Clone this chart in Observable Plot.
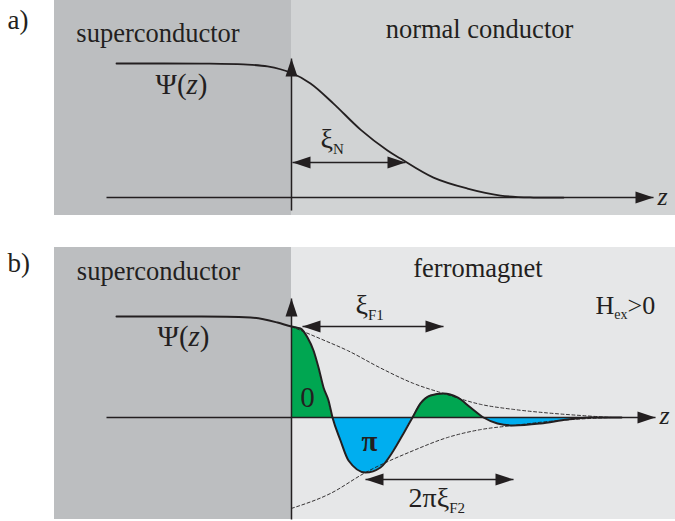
<!DOCTYPE html>
<html>
<head>
<meta charset="utf-8">
<script src="https://cdn.jsdelivr.net/npm/d3@7"></script>
<script src="https://cdn.jsdelivr.net/npm/@observablehq/plot@0.6"></script>
<style>
  body { margin: 0; background: #fff; }
  #chart { position: relative; width: 675px; height: 521px; }
  #panelA { position: absolute; left: 0; top: 0; }
  #panelB { position: absolute; left: 0; top: 247px; }
  svg { display: block; }
</style>
</head>
<body>
<div id="chart"><div id="panelA"></div><div id="panelB"></div></div>
<script>
// ---------- Panel a: S / N junction, order parameter decays monotonically ----------
const zN   = [-1.75, -0.9, -0.48, -0.24, 0, 0.19, 0.42, 0.69, 0.96, 1.09, 1.42, 1.76, 2.09, 2.42, 2.72];
const psiN = [1.0, 0.999, 0.993, 0.978, 0.929, 0.851, 0.701, 0.507, 0.351, 0.291, 0.149, 0.067, 0.015, 0, 0];

// ---------- Panel b: S / F junction, damped oscillation of the order parameter ----------
const zF   = [-1.75, -0.9, -0.41, -0.14, 0, 0.09, 0.16, 0.22, 0.27, 0.32, 0.37, 0.41, 0.49, 0.57, 0.74, 0.89, 1.02, 1.12, 1.21, 1.29, 1.39, 1.52, 1.66, 1.79, 1.92, 2.06, 2.22, 2.49, 2.76, 2.99, 3.3];
const psiF = [1.0, 0.999, 0.99, 0.94, 0.9, 0.881, 0.792, 0.663, 0.495, 0.297, 0.168, 0, -0.228, -0.426, -0.545, -0.495, -0.327, -0.158, 0, 0.139, 0.218, 0.238, 0.198, 0.099, 0, -0.059, -0.079, -0.059, -0.02, 0, 0];

// decay envelopes (dashed)
const envUpZ   = [0.0, 0.3, 0.56, 0.89, 1.22, 1.52, 1.89, 2.22, 2.56, 2.89, 3.2];
const envUpPsi = [0.9, 0.775, 0.663, 0.49, 0.337, 0.238, 0.13, 0.08, 0.045, 0.02, 0];
const envLoZ   = [0.0, 0.39, 0.74, 1.22, 1.56, 1.89, 2.22, 2.56, 2.89, 3.2];
const envLoPsi = [-0.9, -0.752, -0.545, -0.327, -0.198, -0.12, -0.079, -0.04, -0.015, 0];

// material regions along z
const regionsA = [
  {name: "superconductor", z1: -2.37, z2: 0, fill: "#bcbec0"},
  {name: "normal conductor", z1: 0, z2: 3.84, fill: "#d1d3d4"}
];
const regionsB = [
  {name: "superconductor", z1: -2.37, z2: 0, fill: "#bcbec0"},
  {name: "ferromagnet", z1: 0, z2: 3.84, fill: "#e6e7e8"}
];

// arrows: horizontal (z1 -> z2 at psi) and vertical (psi1 -> psi2 at z)
const hArrowsA = [
  {z1: -1.85, z2: 3.62, psi: 0, start: false, end: true},      // z axis
  {z1: 0.01, z2: 1.14, psi: 0.261, start: true, end: true}      // xi_N
];
const vArrowsA = [{z: 0, psi1: -0.097, psi2: 1.037}];
const axisB = [{z1: -1.85, z2: 3.64, psi: 0, start: false, end: true}];
const hArrowsB = [
  {z1: 0.11, z2: 1.52, psi: 0.901, start: true, end: true},     // xi_F1
  {z1: 0.74, z2: 2.22, psi: -0.614, start: true, end: true}     // 2 pi xi_F2
];
const vArrowsB = [{z: 0, psi1: -1.01, psi2: 1.178}];

// text labels; parts: [string, style] with style "" | "i" | "b" | "sub"
const labelsA = [
  {z: -2.84, psi: 1.254, size: 27, anchor: "start", parts: [["a)", ""]]},
  {z: -1.335, psi: 1.157, size: 26.5, anchor: "middle", parts: [["superconductor", ""]]},
  {z: 1.88, psi: 1.187, size: 26.5, anchor: "middle", parts: [["normal conductor", ""]]},
  {z: -1.36, psi: 0.776, size: 29, anchor: "start", parts: [["Ψ(", ""], ["z", "i"], [")", ""]]},
  {z: 0.29, psi: 0.366, size: 28, anchor: "start", parts: [["ξ", ""], ["N", "sub"]]},
  {z: 3.66, psi: -0.052, size: 26, anchor: "start", parts: [["z", "i"]]}
];
const labelsB = [
  {z: -2.84, psi: 1.436, size: 27, anchor: "start", parts: [["b)", ""]]},
  {z: -1.33, psi: 1.366, size: 26.5, anchor: "middle", parts: [["superconductor", ""]]},
  {z: 1.865, psi: 1.386, size: 26.5, anchor: "middle", parts: [["ferromagnet", ""]]},
  {z: 3.04, psi: 1.02, size: 26, anchor: "start", parts: [["H", ""], ["ex", "sub"], [">0", ""]]},
  {z: -1.34, psi: 0.703, size: 29, anchor: "start", parts: [["Ψ(", ""], ["z", "i"], [")", ""]]},
  {z: 0.64, psi: 1.02, size: 28, anchor: "start", parts: [["ξ", ""], ["F1", "sub"]]},
  {z: 0.16, psi: 0.099, size: 29, anchor: "middle", parts: [["0", ""]]},
  {z: 0.78, psi: -0.327, size: 29, anchor: "middle", parts: [["π", "b"]]},
  {z: 1.17, psi: -0.891, size: 28, anchor: "start", parts: [["2πξ", ""], ["F2", "sub"]]},
  {z: 3.68, psi: -0.069, size: 26, anchor: "start", parts: [["z", "i"]]}
];

const ink = "#231f20";
const serif = "'Liberation Serif', 'Times New Roman', serif";

// solid triangular arrowhead, tip at the anchor point
const headShape = {
  draw(ctx, l, r) {
    ctx.moveTo(0, -l);
    ctx.lineTo(r, 0);
    ctx.lineTo(-r, 0);
    ctx.closePath();
  }
};

function arrowHeads(hArrows, vArrows) {
  const heads = [];
  for (const a of hArrows) {
    if (a.start) heads.push({z: a.z1, psi: a.psi, angle: 270});
    if (a.end) heads.push({z: a.z2, psi: a.psi, angle: 90});
  }
  for (const a of vArrows) heads.push({z: a.z, psi: a.psi2, angle: 0});
  return heads;
}

function series(zs, ps) {
  return zs.map((z, i) => ({z, psi: ps[i]}));
}

function arrowMarks(hArrows, vArrows) {
  return [
    Plot.link(hArrows, {x1: "z1", x2: "z2", y1: "psi", y2: "psi", stroke: ink, strokeWidth: 1.5}),
    Plot.link(vArrows, {x1: "z", x2: "z", y1: "psi1", y2: "psi2", stroke: ink, strokeWidth: 1.5}),
    Plot.vector(arrowHeads(hArrows, vArrows), {
      x: "z", y: "psi", rotate: "angle", length: 18, r: 6,
      anchor: "end", shape: headShape, fill: ink, stroke: "none"
    })
  ];
}

function regionMarks(regions, yDomain) {
  return Plot.rect(regions, {x1: "z1", x2: "z2", y1: () => yDomain[0], y2: () => yDomain[1], fill: "fill", inset: 0});
}

function textMarks(labels, prefix) {
  return labels.map((d, i) => Plot.text([d], {
    x: "z", y: "psi",
    text: (t) => t.parts.map((p) => p[0]).join(""),
    textAnchor: d.anchor,
    lineAnchor: "bottom",
    fontSize: d.size,
    fontFamily: serif,
    fill: ink,
    className: `${prefix}-label-${i}`
  }));
}

// replace plain label strings by styled tspans (italic, bold, subscripts)
function styleLabels(svg, labels, prefix) {
  labels.forEach((d, i) => {
    const t = d3.select(svg).select(`g.${prefix}-label-${i} text`);
    if (t.empty()) return;
    t.text(null);
    let shift = 0;
    const drop = Math.round(d.size * 0.2);
    for (const [s, style] of d.parts) {
      const ts = t.append("tspan").text(s);
      const target = style === "sub" ? drop : 0;
      if (target !== shift) { ts.attr("dy", target - shift); shift = target; }
      if (style === "sub") ts.attr("font-size", Math.round(d.size * 0.52));
      if (style === "i") ts.attr("font-style", "italic");
      if (style === "b") ts.attr("font-weight", "bold");
    }
  });
}

function basePlot(height, yDomain, marks) {
  return Plot.plot({
    width: 675,
    height,
    marginLeft: 54, marginRight: 0, marginTop: 0, marginBottom: 0,
    x: {domain: [-2.37, 3.84], axis: null},
    y: {domain: yDomain, axis: null},
    style: {background: "transparent", overflow: "visible"},
    marks
  });
}

// ----- panel a -----
const yDomA = [-0.134, 1.47];
const plotA = basePlot(215, yDomA, [
  regionMarks(regionsA, yDomA),
  ...arrowMarks(hArrowsA, vArrowsA),
  Plot.line(series(zN, psiN), {x: "z", y: "psi", curve: "catmull-rom", stroke: ink, strokeWidth: 1.8}),
  ...textMarks(labelsA, "a")
]);
styleLabels(plotA, labelsA, "a");
document.getElementById("panelA").appendChild(plotA);

// ----- panel b -----
const yDomB = [-1.01, 1.683];
const curveF = series(zF, psiF);
const lobes = curveF.filter((d) => d.z >= 0);
const plotB = basePlot(272, yDomB, [
  regionMarks(regionsB, yDomB),
  Plot.areaY(lobes, {x: "z", y1: 0, y2: "psi", curve: "monotone-x", fill: "#00a651", className: "lobes-positive"}),
  Plot.areaY(lobes, {x: "z", y1: 0, y2: "psi", curve: "monotone-x", fill: "#00aeef", className: "lobes-negative"}),
  ...arrowMarks(axisB, vArrowsB),
  Plot.line(series(envUpZ, envUpPsi), {x: "z", y: "psi", curve: "monotone-x", stroke: ink, strokeWidth: 0.9, strokeDasharray: "3,2.5"}),
  Plot.line(series(envLoZ, envLoPsi), {x: "z", y: "psi", curve: "monotone-x", stroke: ink, strokeWidth: 0.9, strokeDasharray: "3,2.5"}),
  Plot.line(curveF, {x: "z", y: "psi", curve: "monotone-x", stroke: ink, strokeWidth: 2}),
  ...arrowMarks(hArrowsB, []),
  ...textMarks(labelsB, "b")
]);

// colour the lobes by sign: green above the z axis (0-phase), blue below (π-phase)
{
  const y0 = plotB.scale("y").apply(0);
  const svg = d3.select(plotB);
  const defs = svg.insert("defs", ":first-child");
  defs.append("clipPath").attr("id", "clip-above").append("rect")
    .attr("x", 0).attr("y", 0).attr("width", 675).attr("height", y0);
  defs.append("clipPath").attr("id", "clip-below").append("rect")
    .attr("x", 0).attr("y", y0).attr("width", 675).attr("height", 272 - y0);
  svg.select("g.lobes-positive").attr("clip-path", "url(#clip-above)");
  svg.select("g.lobes-negative").attr("clip-path", "url(#clip-below)");
}
styleLabels(plotB, labelsB, "b");
document.getElementById("panelB").appendChild(plotB);
</script>
</body>
</html>
